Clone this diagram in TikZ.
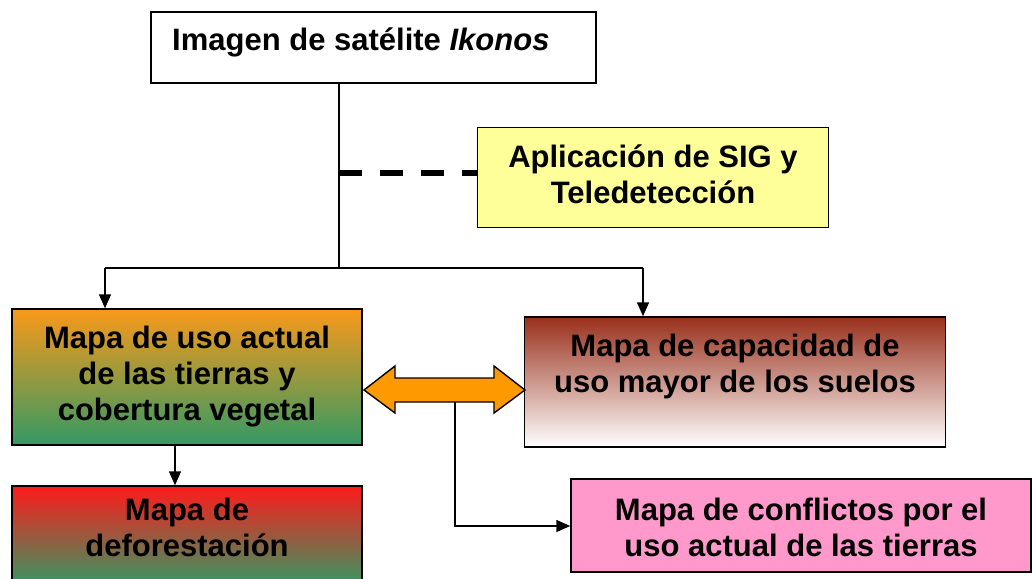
\documentclass[tikz,border=0pt]{standalone}
\usepackage{fontspec}
\setmainfont{Liberation Sans}
\usetikzlibrary{arrows.meta,shadings}
\definecolor{myorange}{RGB}{248,153,26}
\definecolor{mygreen}{RGB}{52,153,100}
\definecolor{myred}{RGB}{255,26,26}
\definecolor{mybrown}{RGB}{153,48,28}
\definecolor{mypink}{RGB}{255,153,204}
\definecolor{myyellow}{RGB}{255,255,153}
\definecolor{arroworange}{RGB}{255,153,0}
\tikzset{
  box/.style={draw=black, line width=1.5pt, rectangle, inner sep=0pt},
  txt/.style={font=\fontsize{31}{36}\selectfont\bfseries, align=center, inner sep=0pt},
  conn/.style={line width=1.5pt, draw=black},
  arr/.style={conn, -{Triangle[length=14pt,width=12pt]}},
}
\begin{document}
\begin{tikzpicture}[x=1pt,y=-1pt]
\useasboundingbox (0,0) rectangle (1032,578);
\clip (0,0) rectangle (1032,578);
\fill[white] (0,0) rectangle (1032,578);

% top box
\node[box, fill=white, minimum width=445pt, minimum height=71pt] (top) at (373.5,47.5) {};
\node[txt, anchor=base west] (toptext) at (172,51) {Imagen de satélite \textit{Ikonos}};

% yellow box
\node[box, fill=myyellow, minimum width=351pt, minimum height=100pt] (sig) at (653,177.5) {};
\node[txt] (sigtext) at (653,174.5) {Aplicación de SIG y\\Teledetección};

% orange box
\node[box, top color=myorange, bottom color=mygreen, minimum width=350pt, minimum height=136pt, txt] (uso) at (187,377) {Mapa de uso actual\\de las tierras y\\cobertura vegetal};

% brown box
\node[box, top color=mybrown, bottom color=white, minimum width=421pt, minimum height=130pt] (cap) at (735,382) {};
\node[txt] (captext) at (735,366) {Mapa de capacidad de\\uso mayor de los suelos};

% red box
\node[box, top color=myred, bottom color=mygreen, minimum width=350pt, minimum height=100pt] (def) at (187,536) {};
\node[txt] (deftext) at (187,527) {Mapa de\\deforestación};

% pink box
\node[box, fill=mypink, minimum width=460pt, minimum height=93pt] (conf) at (801,525.5) {};
\node[txt] (conftext) at (801,527) {Mapa de conflictos por el\\uso actual de las tierras};

% connectors
\coordinate (trunk) at (339,268);
\coordinate (dashpt) at (339,173);
\coordinate (lft) at (105,268);
\coordinate (rgt) at (643,268);
\draw[conn] (top.south -| trunk) -- (trunk);
\draw[line width=6pt, dash pattern=on 23pt off 18pt] (dashpt) -- (sig.west |- dashpt);
\draw[conn] (lft) -- (rgt);
\draw[arr] (lft) -- (uso.north -| lft);
\draw[arr] (rgt) -- (cap.north -| rgt);
\coordinate (ub) at (175,445);
\draw[arr] (uso.south -| ub) -- (def.north -| ub);

% double arrow
\draw[line width=1.4pt, fill=arroworange, line join=miter]
  (364,390) -- (395,366) -- (395,378) -- (494,378) -- (494,366) -- (525,390)
  -- (494,413) -- (494,402) -- (395,402) -- (395,413) -- cycle;
\coordinate (dab) at (455,402);
\coordinate (corner) at (455,526);
\draw[arr] (dab) -- (corner) -- (conf.west |- corner);
\end{tikzpicture}
\end{document}
